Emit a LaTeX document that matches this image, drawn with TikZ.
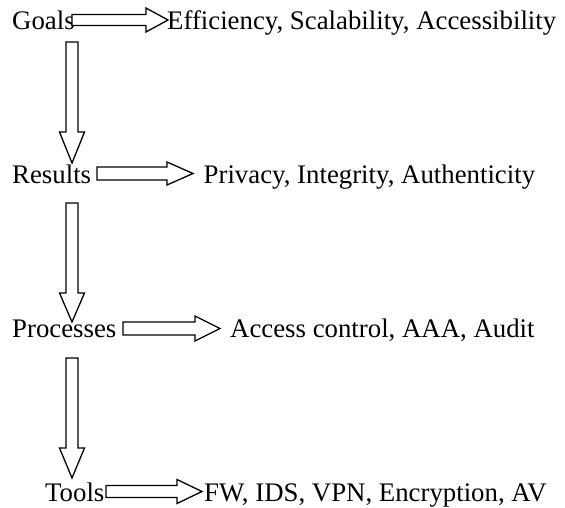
\documentclass[tikz,border=0pt]{standalone}
\usepackage{fontspec}
\setmainfont{Liberation Serif}
\usetikzlibrary{calc}
\tikzset{
  lbl/.style={inner sep=0pt, anchor=base west, font=\fontsize{26.8}{30}\selectfont},
  blk/.style={draw=black, line width=1.3pt, fill=white, line join=miter}
}
% horizontal block arrow: #1 start, #2 tip, #3 shaft half, #4 head half, #5 head length
\newcommand\hblock[5]{%
  \draw[blk] let \p1=(#1), \p2=(#2) in
    (\x1,\y1+#3) -- (\x2-#5,\y1+#3) -- (\x2-#5,\y1+#4) -- (\x2,\y1)
    -- (\x2-#5,\y1-#4) -- (\x2-#5,\y1-#3) -- (\x1,\y1-#3) -- cycle;}
% vertical block arrow (downwards)
\newcommand\vblock[5]{%
  \draw[blk] let \p1=(#1), \p2=(#2) in
    (\x1-#3,\y1) -- (\x1-#3,\y2+#5) -- (\x1-#4,\y2+#5) -- (\x1,\y2)
    -- (\x1+#4,\y2+#5) -- (\x1+#3,\y2+#5) -- (\x1+#3,\y1) -- cycle;}
\begin{document}
\begin{tikzpicture}[x=1pt,y=-1pt]
\useasboundingbox (0,0) rectangle (565,508);
% texts
\node[lbl] (goals) at (12,29.5) {Goals};
\node[lbl] (eff) at (167,29.5) {Efficiency, Scalability, Accessibility};
\node[lbl] (results) at (12,183) {Results};
\node[lbl] (priv) at (203.5,183) {Privacy, Integrity, Authenticity};
\node[lbl] (proc) at (12,337) {Processes};
\node[lbl] (acc) at (230,337) {Access control, AAA, Audit};
\node[lbl] (tools) at (45,501) {Tools};
\node[lbl] (fw) at (204,501) {FW, IDS, VPN, Encryption, AV};
% arrow end points
\coordinate (h1s) at (72,20);   \coordinate (h1e) at (168,20);
\coordinate (h2s) at (97,173.5); \coordinate (h2e) at (193,173.5);
\coordinate (h3s) at (123,328.5); \coordinate (h3e) at (220,328.5);
\coordinate (h4s) at (106,491.5); \coordinate (h4e) at (202,491.5);
\coordinate (v1s) at (72,42);  \coordinate (v1e) at (72,163);
\coordinate (v2s) at (72,203); \coordinate (v2e) at (72,322);
\coordinate (v3s) at (72,358); \coordinate (v3e) at (72,478);
% horizontal arrows
\hblock{h1s}{h1e}{5.5pt}{12pt}{22pt}
\hblock{h2s}{h2e}{6.5pt}{11.5pt}{26pt}
\hblock{h3s}{h3e}{6.5pt}{12.5pt}{25pt}
\hblock{h4s}{h4e}{6pt}{12pt}{25pt}
% vertical arrows
\vblock{v1s}{v1e}{6pt}{12.5pt}{31pt}
\vblock{v2s}{v2e}{6pt}{12.5pt}{29pt}
\vblock{v3s}{v3e}{6pt}{12.5pt}{30pt}
\end{tikzpicture}
\end{document}
